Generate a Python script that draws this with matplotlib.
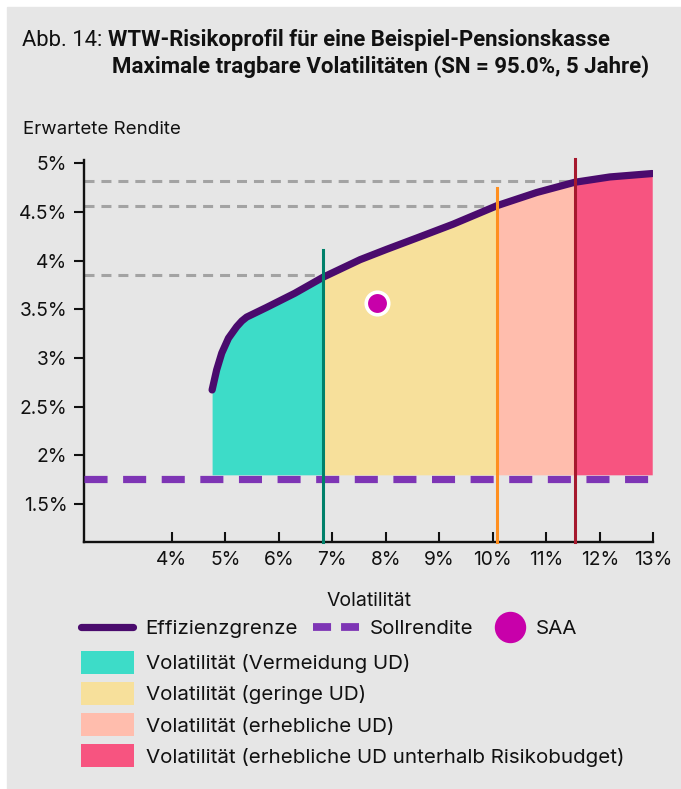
import numpy as np
import matplotlib
matplotlib.use("Agg")
import matplotlib.pyplot as plt
from matplotlib.lines import Line2D
from matplotlib.patches import Patch, Rectangle

plt.rcParams.update({
    "font.family": ["Inter", "DejaVu Sans"],
    "lines.scale_dashes": False,
})

W, H = 681, 789

# Effizienzgrenze (Volatilität %, erwartete Rendite %)
frontier_vol = [4.755, 4.84, 4.935, 5.06, 5.215, 5.31, 5.40, 5.775, 6.30, 6.83,
                7.52, 8.02, 8.60, 9.26, 10.08, 10.82, 11.53, 12.19, 12.98]
frontier_ret = [2.672, 2.878, 3.05, 3.203, 3.322, 3.38, 3.42, 3.52, 3.665, 3.83,
                4.01, 4.117, 4.237, 4.375, 4.565, 4.70, 4.805, 4.86, 4.895]

# Grenzen der Volatilitätsbereiche und zugehörige Renditen
limit_vol = [6.83, 10.08, 11.53]
limit_ret = [3.85, 4.565, 4.82]
limit_top = [4.11, 4.75, 5.04]
limit_colors = ["#00806A", "#FF8F1F", "#A6192E"]

zone_colors = ["#3DDCC8", "#F7E09B", "#FFBDAD", "#F75480"]
zone_labels = ["Volatilität (Vermeidung UD)",
               "Volatilität (geringe UD)",
               "Volatilität (erhebliche UD)",
               "Volatilität (erhebliche UD unterhalb Risikobudget)"]
fill_bottom = 1.8

soll_rendite = 1.755
saa_vol, saa_ret = 7.84, 3.56

xticks = [4, 5, 6, 7, 8, 9, 10, 11, 12, 13]
yticks = [1.5, 2, 2.5, 3, 3.5, 4, 4.5, 5]

XMIN, XMAX = 2.361, 13.0
YMIN, YMAX = 1.113, 5.034

fig = plt.figure(figsize=(W / 100, H / 100), dpi=100, facecolor="white")
fig.patches.append(Rectangle((7 / W, 0), 1 - 7 / W, 1 - 7 / H,
                             transform=fig.transFigure, color="#E6E6E6",
                             zorder=-10))

ax = fig.add_axes([84 / W, (H - 541.7) / H, (653.3 - 84) / W, (541.7 - 160) / H])
ax.set_facecolor("none")
ax.set_xlim(XMIN, XMAX)
ax.set_ylim(YMIN, YMAX)

# Bereiche unter der Effizienzgrenze
edges = [frontier_vol[0]] + limit_vol + [frontier_vol[-1]]
for i, col in enumerate(zone_colors):
    xs = np.linspace(edges[i], edges[i + 1], 200)
    ys = np.interp(xs, frontier_vol, frontier_ret)
    ax.fill_between(xs, fill_bottom, ys, color=col, lw=0, zorder=1)

# graue Hilfslinien
for lv, lr in zip(limit_vol, limit_ret):
    ax.plot([XMIN, lv], [lr, lr], color="#A3A3A3", lw=2.2,
            dashes=(7.2, 5.0), zorder=2, clip_on=False)

ax.plot([XMIN, 12.95], [soll_rendite, soll_rendite], color="#7E35B5", lw=5.2,
        dashes=(16.6, 11.2), dash_capstyle="butt", zorder=3, clip_on=False)

ax.plot(frontier_vol, frontier_ret, color="#4A0B6D", lw=5.2,
        solid_capstyle="round", solid_joinstyle="round", zorder=4)

for lv, top, col in zip(limit_vol, limit_top, limit_colors):
    ax.plot([lv, lv], [YMIN, top], color=col, lw=2.2, zorder=5, clip_on=False)

ax.plot([saa_vol], [saa_ret], "o", color="#C800AA", ms=16.2,
        mec="white", mew=2.6, zorder=6)

for s in ["top", "right"]:
    ax.spines[s].set_visible(False)
for s in ["left", "bottom"]:
    ax.spines[s].set_linewidth(1.7)
    ax.spines[s].set_color("#111111")

ax.set_xticks(xticks)
ax.set_xticklabels([f"{t}%" for t in xticks])
ax.set_yticks(yticks)
ax.set_yticklabels([f"{t:g}%" for t in yticks])
ax.tick_params(axis="x", direction="in", length=7, width=1.5, pad=7,
               labelsize=13.8, colors="#111111")
ax.tick_params(axis="y", direction="out", length=7, width=1.5, pad=5,
               labelsize=13.8, colors="#111111")

ax.set_xlabel("Volatilität", fontsize=14, labelpad=16, color="#111111")

fig.text(23 / W, 1 - 130 / H, "Erwartete Rendite", fontsize=13.5,
         va="center", ha="left", color="#111111")

# Titel
title_font = ["Roboto", "DejaVu Sans"]
fig.text(22 / W, 1 - 40 / H, "Abb. 14:", fontsize=15.8, va="center",
         ha="left", family=title_font, color="#111111")
fig.text(108 / W, 1 - 40 / H, "WTW-Risikoprofil für eine Beispiel-Pensionskasse",
         fontsize=15.9, fontweight="bold", va="center", ha="left",
         family=title_font, color="#111111")
fig.text(112 / W, 1 - 67 / H,
         "Maximale tragbare Volatilitäten (SN = 95.0%, 5 Jahre)",
         fontsize=16.0, fontweight="bold", va="center", ha="left",
         family=title_font, color="#111111")

# Legende
FS = 14.8
F = FS * 100 / 72  # Schriftgröße in Pixel
row1 = [
    (Line2D([], [], color="#4A0B6D", lw=5.2, solid_capstyle="round"),
     "Effizienzgrenze", 81, 52, 12),
    (Line2D([], [], color="#7E35B5", lw=5.6, dashes=(13, 7.2)),
     "Sollrendite", 313, 46, 11),
    (Line2D([], [], ls="none", marker="o", color="#C800AA", ms=21.6),
     "SAA", 494, 32, 10),
]
for handle, label, x0, hl, pad in row1:
    fig.legend([handle], [label], loc="upper left",
               bbox_to_anchor=(x0 / W, 1 - 620 / H), frameon=False,
               fontsize=FS, handlelength=hl / F, handletextpad=pad / F,
               borderpad=0, borderaxespad=0, labelcolor="#111111")

h_zone = [Patch(facecolor=c, edgecolor="none") for c in zone_colors]
fig.legend(h_zone, zone_labels, loc="upper left",
           bbox_to_anchor=(81 / W, 1 - 651 / H), frameon=False, fontsize=FS,
           handlelength=53 / F, handleheight=1.34, handletextpad=12 / F,
           labelspacing=0.4, borderpad=0, borderaxespad=0,
           labelcolor="#111111")

fig.savefig("out.png", dpi=100, facecolor="white")
